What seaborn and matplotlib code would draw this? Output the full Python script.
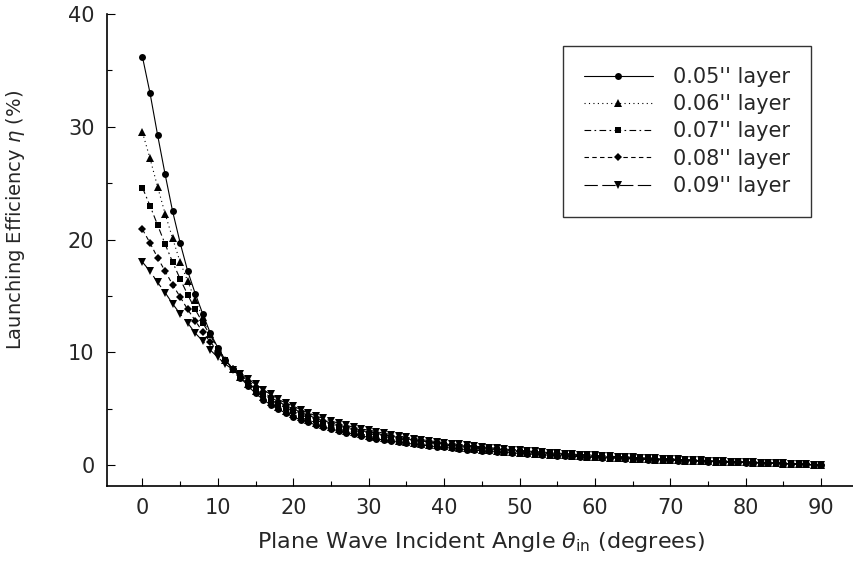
import matplotlib
matplotlib.use("Agg")
import matplotlib.pyplot as plt
from matplotlib.ticker import MultipleLocator
import seaborn as sns

angles = list(range(0, 91))

layers = ["0.05'' layer", "0.06'' layer", "0.07'' layer", "0.08'' layer", "0.09'' layer"]

eta_005 = [36.2, 33.0, 29.3, 25.8, 22.5, 19.7, 17.2, 15.2, 13.4, 11.7, 10.4, 9.3, 8.5,
           7.74, 7.01, 6.35, 5.81, 5.34, 4.97, 4.6, 4.28, 4.01, 3.78, 3.56, 3.38, 3.2, 3.03, 2.88, 2.75, 2.61,
           2.44, 2.32, 2.22, 2.12, 2.02, 1.94, 1.85, 1.77, 1.7, 1.63,
           1.56, 1.5, 1.43, 1.37, 1.32, 1.27, 1.21, 1.16, 1.12, 1.07,
           1.03, 0.99, 0.94, 0.91, 0.87, 0.84, 0.8, 0.77, 0.73, 0.7,
           0.67, 0.64, 0.62, 0.59, 0.56, 0.54, 0.51, 0.48, 0.46, 0.44,
           0.41, 0.4, 0.37, 0.35, 0.33, 0.31, 0.29, 0.26, 0.25, 0.23,
           0.21, 0.19, 0.18, 0.16, 0.14, 0.11, 0.1, 0.07, 0.05, 0.03, 0.0]

eta_006 = [29.5, 27.2, 24.7, 22.3, 20.1, 18.0, 16.3, 14.6, 13.1, 11.6, 10.3, 9.35, 8.5,
           7.82, 7.15, 6.55, 6.03, 5.57, 5.18, 4.82, 4.51, 4.23, 3.99, 3.75, 3.56, 3.37, 3.2, 3.04, 2.9, 2.76,
           2.6, 2.48, 2.37, 2.27, 2.16, 2.07, 1.97, 1.89, 1.81, 1.74,
           1.66, 1.6, 1.53, 1.47, 1.41, 1.35, 1.3, 1.24, 1.19, 1.15,
           1.1, 1.05, 1.01, 0.97, 0.93, 0.89, 0.86, 0.82, 0.78, 0.75,
           0.71, 0.69, 0.66, 0.63, 0.6, 0.57, 0.55, 0.52, 0.49, 0.47,
           0.44, 0.42, 0.39, 0.38, 0.35, 0.33, 0.31, 0.28, 0.26, 0.24,
           0.23, 0.21, 0.19, 0.17, 0.15, 0.12, 0.1, 0.08, 0.06, 0.03, 0.0]

eta_007 = [24.6, 23.0, 21.3, 19.6, 18.0, 16.5, 15.1, 13.8, 12.6, 11.5, 10.3, 9.35, 8.5,
           7.9, 7.3, 6.75, 6.25, 5.8, 5.4, 5.05, 4.75, 4.45, 4.2, 3.95, 3.75, 3.55, 3.37, 3.2, 3.05, 2.9,
           2.77, 2.64, 2.52, 2.41, 2.3, 2.2, 2.1, 2.01, 1.93, 1.85,
           1.77, 1.7, 1.63, 1.56, 1.5, 1.44, 1.38, 1.32, 1.27, 1.22,
           1.17, 1.12, 1.07, 1.03, 0.99, 0.95, 0.91, 0.87, 0.83, 0.8,
           0.76, 0.73, 0.7, 0.67, 0.64, 0.61, 0.58, 0.55, 0.52, 0.5,
           0.47, 0.45, 0.42, 0.4, 0.37, 0.35, 0.33, 0.3, 0.28, 0.26,
           0.24, 0.22, 0.2, 0.18, 0.16, 0.13, 0.11, 0.08, 0.06, 0.03, 0.0]

eta_008 = [20.9, 19.7, 18.4, 17.2, 16.0, 14.9, 13.8, 12.8, 11.8, 10.9, 10.1, 9.25, 8.5,
           7.98, 7.45, 6.95, 6.47, 6.03, 5.62, 5.28, 4.99, 4.67, 4.41, 4.15, 3.94, 3.73, 3.54, 3.36, 3.2, 3.05,
           2.94, 2.8, 2.67, 2.55, 2.44, 2.33, 2.23, 2.13, 2.05, 1.96,
           1.88, 1.8, 1.73, 1.65, 1.59, 1.53, 1.46, 1.4, 1.35, 1.29,
           1.24, 1.19, 1.13, 1.09, 1.05, 1.01, 0.96, 0.92, 0.88, 0.85,
           0.81, 0.77, 0.74, 0.71, 0.68, 0.65, 0.61, 0.58, 0.55, 0.53,
           0.5, 0.48, 0.45, 0.42, 0.39, 0.37, 0.35, 0.32, 0.3, 0.28,
           0.25, 0.23, 0.21, 0.19, 0.17, 0.14, 0.12, 0.08, 0.06, 0.03, 0.0]

eta_009 = [18.0, 17.2, 16.2, 15.3, 14.3, 13.4, 12.6, 11.7, 11.0, 10.2, 9.55, 8.95, 8.45,
           8.06, 7.59, 7.16, 6.69, 6.26, 5.83, 5.5, 5.23, 4.9, 4.62, 4.35, 4.13, 3.91, 3.71, 3.52, 3.36, 3.19,
           3.1, 2.96, 2.82, 2.7, 2.58, 2.46, 2.35, 2.25, 2.16, 2.07,
           1.98, 1.9, 1.83, 1.75, 1.68, 1.61, 1.55, 1.48, 1.42, 1.37,
           1.31, 1.25, 1.2, 1.15, 1.11, 1.06, 1.02, 0.97, 0.93, 0.9,
           0.85, 0.82, 0.78, 0.75, 0.72, 0.68, 0.65, 0.62, 0.58, 0.56,
           0.53, 0.5, 0.47, 0.45, 0.41, 0.39, 0.37, 0.34, 0.31, 0.29,
           0.27, 0.25, 0.22, 0.2, 0.18, 0.15, 0.12, 0.09, 0.07, 0.03, 0.0]

series = [eta_005, eta_006, eta_007, eta_008, eta_009]
for s in series:
    assert len(s) == len(angles), len(s)

markers = ["o", "^", "s", "D", "v"]
msizes = [5, 5.5, 5, 4.5, 5.5]
linestyles = ["-", (0, (1, 3)), (0, (6, 3, 1.5, 3)), (0, (4, 3)), (0, (12, 4))]

sns.set_style("ticks")
plt.rcParams["font.family"] = ["DejaVu Sans"]
plt.rcParams["mathtext.fontset"] = "dejavusans"

fig = plt.figure(figsize=(8.54, 5.64), dpi=100)
ax = fig.add_axes([107 / 854, 1 - 486 / 564, (854 - 107) / 854, (486 - 14) / 564])

for vals, lab, mk, ms, ls in zip(series, layers, markers, msizes, linestyles):
    sns.lineplot(x=angles, y=vals, ax=ax, color="black", marker=mk, markersize=ms,
                 markeredgewidth=0, linestyle=ls, linewidth=0.8, label=lab)

ax.set_xlim(-4.7, 94.35)
ax.set_ylim(-1.86, 40)
ax.xaxis.set_major_locator(MultipleLocator(10))
ax.xaxis.set_minor_locator(MultipleLocator(5))
ax.yaxis.set_major_locator(MultipleLocator(10))
ax.yaxis.set_minor_locator(MultipleLocator(5))
ax.tick_params(which="both", direction="in", color="black", width=0.8)
ax.tick_params(which="major", length=6, labelsize=15, pad=9)
ax.tick_params(which="minor", length=3.5)
for sp in ["top", "right"]:
    ax.spines[sp].set_visible(False)
for sp in ["left", "bottom"]:
    ax.spines[sp].set_color("black")
    ax.spines[sp].set_linewidth(1.2)

ax.set_xlabel(r"Plane Wave Incident Angle $\theta_{\mathrm{in}}$ (degrees)", fontsize=16)
ax.set_ylabel(r"Launching Efficiency $\eta$ (%)", fontsize=14)
ax.xaxis.set_label_coords((481 - 107) / 747, -(542 - 486) / 472)
ax.xaxis.label.set_va("center")
ax.yaxis.set_label_coords((16 - 107) / 747, 1 - (220 - 14) / 472)
ax.yaxis.label.set_va("center")

leg = ax.legend(loc="upper left", bbox_to_anchor=((563 - 107) / 747, 1 - (46 - 14) / 472),
                fontsize=15, frameon=True, fancybox=False, edgecolor="black",
                handlelength=3.3, handletextpad=1.0, labelspacing=0.35,
                borderpad=1.0, borderaxespad=0, numpoints=1)
leg.get_frame().set_linewidth(1.0)

fig.savefig("out.png", dpi=100)
